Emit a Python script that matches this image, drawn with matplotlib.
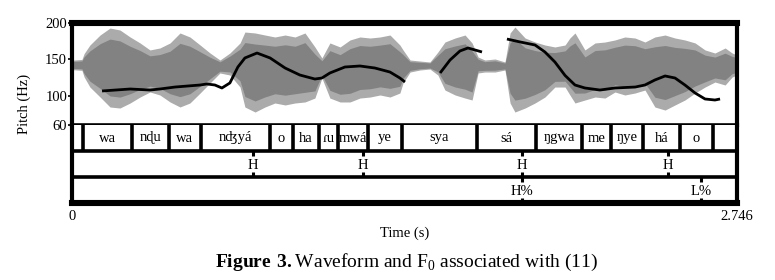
import matplotlib
matplotlib.use('Agg')
import matplotlib.pyplot as plt
import numpy as np

plt.rcParams['font.family'] = ['Liberation Serif', 'DejaVu Serif']
plt.rcParams['mathtext.fontset'] = 'custom'
plt.rcParams['mathtext.rm'] = 'Liberation Serif'
plt.rcParams['mathtext.bf'] = 'Liberation Serif:bold'

TMAX = 2.746

# waveform envelope (time s, upper / lower edge drawn in Hz units of the pitch axis)
env_t = [0.000, 0.041, 0.050, 0.074, 0.116, 0.157, 0.198, 0.240, 0.281, 0.322,
         0.363, 0.405, 0.446, 0.487, 0.529, 0.570, 0.611, 0.652, 0.694, 0.714,
         0.756, 0.797, 0.838, 0.880, 0.921, 0.962, 1.003, 1.032, 1.065, 1.107,
         1.148, 1.189, 1.231, 1.272, 1.313, 1.354, 1.367, 1.396, 1.437, 1.478,
         1.511, 1.540, 1.582, 1.623, 1.652, 1.677, 1.705, 1.747, 1.788, 1.809,
         1.829, 1.871, 1.912, 1.953, 1.994, 2.036, 2.056, 2.077, 2.118, 2.160,
         2.201, 2.242, 2.283, 2.325, 2.366, 2.407, 2.449, 2.490, 2.531, 2.573,
         2.614, 2.655, 2.697, 2.726, 2.746]
env_hi = [149, 150, 158, 169.8, 183.5, 193.1, 190.4, 180.8, 172.6, 163.0,
          165.7, 172.6, 186.3, 180.8, 169.8, 158.8, 149.2, 158.8, 172.6, 187.6,
          186.3, 183.5, 180.8, 183.5, 180.8, 186.3, 167.1, 152.0, 172.6, 167.1,
          176.7, 180.8, 179.4, 180.8, 183.5, 169.8, 163.0, 149.2, 147.8, 146.5,
          160.2, 173.9, 179.4, 183.5, 172.6, 153.3, 149.2, 150.6, 146.5, 186.3,
          194.5, 179.4, 173.9, 169.8, 167.1, 169.8, 179.4, 186.3, 163.0, 172.6,
          173.9, 176.7, 180.8, 179.4, 173.9, 180.8, 183.5, 179.4, 176.7, 172.6,
          163.0, 158.8, 165.7, 158.8, 156.0]
env_lo = [136, 135, 126, 112.1, 98.4, 84.7, 83.3, 90.2, 98.4, 105.3,
          101.2, 91.6, 84.7, 90.2, 103.9, 117.7, 131.4, 128.6, 112.1, 84.7,
          77.8, 84.7, 90.2, 87.5, 90.2, 91.6, 97.0, 124.5, 97.0, 91.6,
          91.6, 97.0, 98.4, 101.2, 98.4, 103.9, 117.7, 132.7, 135.5, 136.8,
          128.6, 108.0, 101.2, 97.0, 94.3, 131.4, 132.7, 132.7, 135.5, 90.2,
          77.8, 83.3, 90.2, 98.4, 112.1, 112.1, 101.2, 90.2, 94.3, 98.4,
          97.0, 105.3, 101.2, 103.9, 108.0, 84.7, 80.5, 87.5, 94.3, 103.9,
          112.1, 119.0, 114.9, 125.9, 128.6]

# F0 track, three voiced stretches
f0_t1 = [0.124, 0.240, 0.322, 0.363, 0.425, 0.529, 0.557, 0.590, 0.619, 0.652,
         0.685, 0.714, 0.764, 0.818, 0.880, 0.941, 1.003, 1.032, 1.065, 1.127,
         1.189, 1.251, 1.313, 1.354, 1.375]
f0_v1 = [106.7, 109.4, 108.0, 109.4, 112.1, 114.9, 116.3, 114.9, 110.8, 117.7,
         139.6, 152.0, 158.8, 152.0, 138.2, 128.6, 123.1, 124.5, 131.4, 139.6,
         141.0, 138.2, 132.7, 124.5, 119.0]
f0_t2 = [1.520, 1.561, 1.602, 1.635, 1.664, 1.693]
f0_v2 = [131.4, 149.2, 161.6, 165.7, 163.0, 160.2]
f0_t3 = [1.796, 1.850, 1.912, 1.953, 1.994, 2.036, 2.077, 2.118, 2.180, 2.242,
         2.325, 2.366, 2.407, 2.449, 2.490, 2.531, 2.573, 2.614, 2.655, 2.676]
f0_v3 = [178.0, 174.0, 169.8, 160.2, 146.5, 128.0, 114.9, 110.8, 108.0, 110.8,
         112.1, 114.9, 121.8, 127.3, 124.5, 114.9, 103.9, 95.7, 94.3, 95.7]

# tier 1: syllables
syl_bounds = [0.045, 0.248, 0.400, 0.533, 0.818, 0.912, 1.020, 1.098, 1.222,
              1.363, 1.672, 1.916, 2.106, 2.225, 2.358, 2.510, 2.647]
syl_labels = ['wa', 'nɖu', 'wa', 'nʤyá', 'o', 'ha', 'ɾu', 'mwá', 'ye',
              'sya', 'sá', 'ŋgwa', 'me', 'ŋye', 'há', 'o']

# tier 2 and 3: tones
tone_t = [0.747, 1.201, 1.858, 2.461]
tone_lab = ['H', 'H', 'H', 'H']
bnd_t = [1.858, 2.597]
bnd_lab = ['H%', 'L%']

W, H = 775, 280


def rect(x0, y0, x1, y1):
    return [x0 / W, 1 - y1 / H, (x1 - x0) / W, (y1 - y0) / H]


fig = plt.figure(figsize=(7.75, 2.8), dpi=100)
ax = fig.add_axes(rect(72, 23, 737, 125))
axt = fig.add_axes(rect(72, 125, 737, 203))

# waveform: light outer band, darker core
env_t = np.array(env_t)
hi = np.array(env_hi)
lo = np.array(env_lo)
mid = (hi + lo) / 2
ax.fill_between(env_t, lo, hi, color='#ababab', lw=0)
ax.fill_between(env_t, mid - 0.72 * (mid - lo), mid + 0.72 * (hi - mid),
                color='#828282', lw=0)

for tt, vv in [(f0_t1, f0_v1), (f0_t2, f0_v2), (f0_t3, f0_v3)]:
    ax.plot(tt, vv, color='black', lw=2.0, solid_capstyle='butt')

ax.set_xlim(0, TMAX)
ax.set_ylim(60, 200)
ax.set_xticks([])
ax.set_yticks([60, 100, 150, 200])
ax.tick_params(axis='y', direction='out', length=3, width=1.2, pad=0.5,
               labelsize=10.5)
ax.spines['top'].set_linewidth(4.4)
ax.spines['left'].set_linewidth(3.0)
ax.spines['right'].set_linewidth(3.0)
ax.spines['bottom'].set_linewidth(2.6)

# tiers
axt.set_xlim(0, TMAX)
axt.set_ylim(0, 3)
axt.set_xticks([])
axt.set_yticks([])
axt.spines['top'].set_visible(False)
axt.spines['bottom'].set_linewidth(4.4)
axt.spines['left'].set_linewidth(3.0)
axt.spines['right'].set_linewidth(3.0)
axt.axhline(2, color='black', lw=2.6)
axt.axhline(1, color='black', lw=2.6)
axt.vlines(syl_bounds, 2, 3, color='black', lw=2.6)
for i, lab in enumerate(syl_labels):
    xc = (syl_bounds[i] + syl_bounds[i + 1]) / 2
    axt.text(xc, 2.5, lab, ha='center', va='center', fontsize=10.5)

for t, lab in zip(tone_t, tone_lab):
    axt.vlines(t, 1.8, 2, color='black', lw=2.2)
    axt.vlines(t, 1, 1.2, color='black', lw=2.2)
    axt.text(t, 1.45, lab, ha='center', va='center', fontsize=10.5)
for t, lab in zip(bnd_t, bnd_lab):
    axt.vlines(t, 0.8, 1, color='black', lw=2.2)
    axt.vlines(t, 0, 0.2, color='black', lw=2.2)
    axt.text(t, 0.45, lab, ha='center', va='center', fontsize=10.5)

fig.text(24 / W, 1 - 104 / H, 'Pitch (Hz)', rotation=90, ha='center',
         va='center', fontsize=10.5)
fig.text(72 / W, 1 - 217 / H, '0', ha='center', va='center', fontsize=10.5)
fig.text(737 / W, 1 - 217 / H, '2.746', ha='center', va='center', fontsize=10.5)
fig.text(405 / W, 1 - 233 / H, 'Time (s)', ha='center', va='center',
         fontsize=10.5)
fig.text(406 / W, 1 - 262 / H,
         r'$\mathbf{Figure\ 3.}$Waveform and F$_0$ associated with (11)',
         ha='center', va='center', fontsize=14)

fig.savefig('out.png', dpi=100)
